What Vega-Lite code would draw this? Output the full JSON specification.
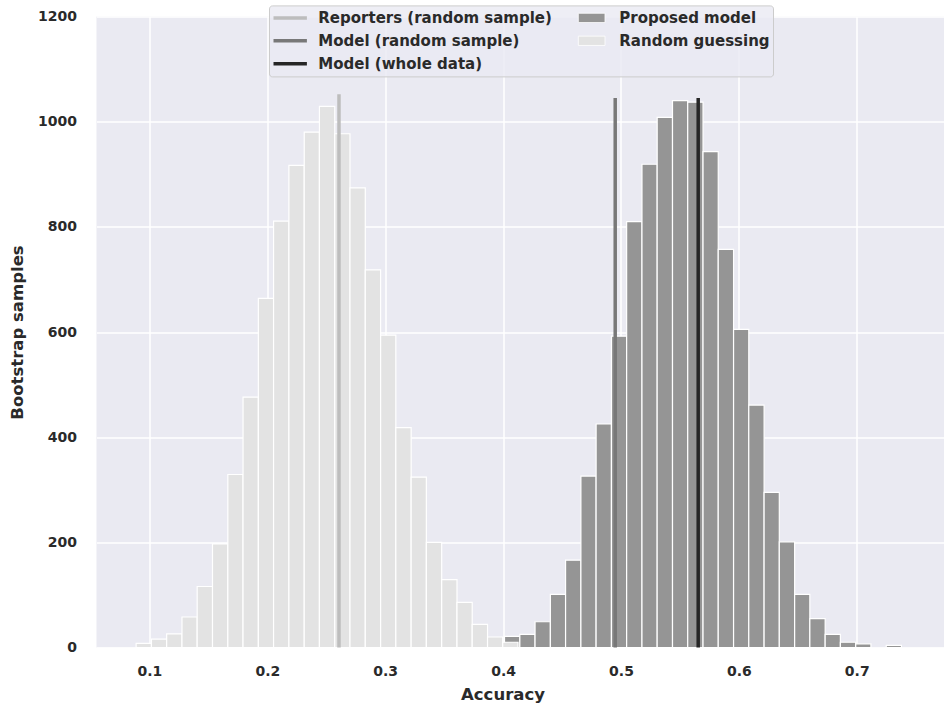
{
  "$schema": "https://vega.github.io/schema/vega-lite/v6.json",
  "width": 847.5,
  "height": 631,
  "autosize": "none",
  "padding": {"left": 96.5, "top": 16.5, "right": 0, "bottom": 60.5},
  "background": "#ffffff",
  "config": {
    "view": {"fill": "#eaeaf2", "stroke": null},
    "font": "DejaVu Sans",
    "axis": {
      "domain": false,
      "ticks": false,
      "grid": true,
      "gridColor": "#ffffff",
      "gridWidth": 1.5,
      "labelFont": "DejaVu Sans",
      "labelFontSize": 14,
      "labelFontWeight": "bold",
      "labelColor": "#2a2a2a",
      "titleFont": "DejaVu Sans",
      "titleFontSize": 16.5,
      "titleFontWeight": "bold",
      "titleColor": "#2a2a2a"
    },
    "legend": {
      "orient": "none",
      "labelFont": "DejaVu Sans",
      "labelFontSize": 15,
      "labelFontWeight": "bold",
      "labelColor": "#2a2a2a",
      "labelLimit": 400,
      "rowPadding": 6.9,
      "padding": 4.5
    }
  },
  "datasets": {
    "hist": [
      {"series": "Proposed model", "x0": 0.4012, "x1": 0.4142, "count": 21},
      {"series": "Proposed model", "x0": 0.4142, "x1": 0.4271, "count": 25},
      {"series": "Proposed model", "x0": 0.4271, "x1": 0.4401, "count": 49},
      {"series": "Proposed model", "x0": 0.4401, "x1": 0.4530, "count": 101},
      {"series": "Proposed model", "x0": 0.4530, "x1": 0.4660, "count": 166},
      {"series": "Proposed model", "x0": 0.4660, "x1": 0.4789, "count": 326},
      {"series": "Proposed model", "x0": 0.4789, "x1": 0.4919, "count": 425},
      {"series": "Proposed model", "x0": 0.4919, "x1": 0.5048, "count": 592},
      {"series": "Proposed model", "x0": 0.5048, "x1": 0.5178, "count": 810},
      {"series": "Proposed model", "x0": 0.5178, "x1": 0.5307, "count": 919},
      {"series": "Proposed model", "x0": 0.5307, "x1": 0.5437, "count": 1008},
      {"series": "Proposed model", "x0": 0.5437, "x1": 0.5566, "count": 1040},
      {"series": "Proposed model", "x0": 0.5566, "x1": 0.5696, "count": 1037},
      {"series": "Proposed model", "x0": 0.5696, "x1": 0.5825, "count": 943},
      {"series": "Proposed model", "x0": 0.5825, "x1": 0.5955, "count": 757},
      {"series": "Proposed model", "x0": 0.5955, "x1": 0.6084, "count": 605},
      {"series": "Proposed model", "x0": 0.6084, "x1": 0.6214, "count": 461},
      {"series": "Proposed model", "x0": 0.6214, "x1": 0.6343, "count": 295},
      {"series": "Proposed model", "x0": 0.6343, "x1": 0.6473, "count": 201},
      {"series": "Proposed model", "x0": 0.6473, "x1": 0.6602, "count": 101},
      {"series": "Proposed model", "x0": 0.6602, "x1": 0.6732, "count": 55},
      {"series": "Proposed model", "x0": 0.6732, "x1": 0.6861, "count": 25},
      {"series": "Proposed model", "x0": 0.6861, "x1": 0.6991, "count": 10},
      {"series": "Proposed model", "x0": 0.6991, "x1": 0.7120, "count": 7},
      {"series": "Proposed model", "x0": 0.7250, "x1": 0.7379, "count": 4},
      {"series": "Random guessing", "x0": 0.0887, "x1": 0.1017, "count": 8},
      {"series": "Random guessing", "x0": 0.1017, "x1": 0.1146, "count": 16},
      {"series": "Random guessing", "x0": 0.1146, "x1": 0.1276, "count": 26},
      {"series": "Random guessing", "x0": 0.1276, "x1": 0.1405, "count": 58},
      {"series": "Random guessing", "x0": 0.1405, "x1": 0.1535, "count": 116},
      {"series": "Random guessing", "x0": 0.1535, "x1": 0.1665, "count": 197},
      {"series": "Random guessing", "x0": 0.1665, "x1": 0.1794, "count": 329},
      {"series": "Random guessing", "x0": 0.1794, "x1": 0.1924, "count": 476},
      {"series": "Random guessing", "x0": 0.1924, "x1": 0.2053, "count": 664},
      {"series": "Random guessing", "x0": 0.2053, "x1": 0.2183, "count": 811},
      {"series": "Random guessing", "x0": 0.2183, "x1": 0.2313, "count": 917},
      {"series": "Random guessing", "x0": 0.2313, "x1": 0.2442, "count": 980},
      {"series": "Random guessing", "x0": 0.2442, "x1": 0.2572, "count": 1029},
      {"series": "Random guessing", "x0": 0.2572, "x1": 0.2701, "count": 977},
      {"series": "Random guessing", "x0": 0.2701, "x1": 0.2831, "count": 874},
      {"series": "Random guessing", "x0": 0.2831, "x1": 0.2961, "count": 718},
      {"series": "Random guessing", "x0": 0.2961, "x1": 0.3090, "count": 594},
      {"series": "Random guessing", "x0": 0.3090, "x1": 0.3220, "count": 418},
      {"series": "Random guessing", "x0": 0.3220, "x1": 0.3349, "count": 324},
      {"series": "Random guessing", "x0": 0.3349, "x1": 0.3479, "count": 200},
      {"series": "Random guessing", "x0": 0.3479, "x1": 0.3609, "count": 129},
      {"series": "Random guessing", "x0": 0.3609, "x1": 0.3738, "count": 86},
      {"series": "Random guessing", "x0": 0.3738, "x1": 0.3868, "count": 44},
      {"series": "Random guessing", "x0": 0.3868, "x1": 0.3997, "count": 20},
      {"series": "Random guessing", "x0": 0.3997, "x1": 0.4127, "count": 10}
    ],
    "lines": [
      {"series": "Reporters (random sample)", "acc": 0.2608, "top": 1052},
      {"series": "Model (random sample)", "acc": 0.4951, "top": 1045},
      {"series": "Model (whole data)", "acc": 0.5655, "top": 1045}
    ]
  },
  "layer": [
    {
      "data": {"name": "hist"},
      "mark": {"type": "bar", "stroke": "#ffffff", "strokeWidth": 1.2},
      "encoding": {
        "x": {
          "field": "x0", "type": "quantitative",
          "scale": {"domain": [0.0551, 0.774], "nice": false, "zero": false},
          "axis": {
            "values": [0.1, 0.2, 0.3, 0.4, 0.5, 0.6, 0.7],
            "format": ".1f",
            "labelPadding": 17,
            "title": "Accuracy",
            "titleX": 406,
            "titleY": 51.5,
            "titleBaseline": "alphabetic"
          }
        },
        "x2": {"field": "x1"},
        "y": {
          "field": "count", "type": "quantitative", "stack": null,
          "scale": {"domain": [0, 1200], "nice": false},
          "axis": {
            "values": [0, 200, 400, 600, 800, 1000, 1200],
            "format": "d",
            "labelPadding": 20,
            "title": "Bootstrap samples",
            "titleX": -79.5,
            "titleY": 315.5,
            "titleBaseline": "middle",
            "titleAlign": "center",
            "titleAngle": -90
          }
        },
        "y2": {"datum": 0},
        "fill": {
          "field": "series", "type": "nominal",
          "scale": {
            "domain": ["Proposed model", "Random guessing"],
            "range": ["#959595", "#e3e3e3"]
          },
          "legend": {
            "title": null,
            "legendX": 477.3,
            "legendY": -10.6,
            "symbolType": "M-1.25,-0.775L3.2,-0.775L3.2,0.775L-1.25,0.775Z",
            "symbolSize": 144,
            "symbolStrokeColor": "#ffffff",
            "symbolStrokeWidth": 0.8,
            "symbolOpacity": 1,
            "labelOffset": 26,
            "zindex": 2
          }
        }
      }
    },
    {
      "data": {"name": "lines"},
      "mark": {"type": "rule", "strokeWidth": 3.5},
      "encoding": {
        "x": {"field": "acc", "type": "quantitative"},
        "y": {"field": "top", "type": "quantitative"},
        "y2": {"datum": 0},
        "stroke": {
          "field": "series", "type": "nominal",
          "scale": {
            "domain": ["Reporters (random sample)", "Model (random sample)", "Model (whole data)"],
            "range": ["#bdbdbd", "#787878", "#262626"]
          },
          "legend": {
            "title": "x",
            "titleOrient": "right",
            "titleColor": "transparent",
            "titleFontSize": 2,
            "titlePadding": 215,
            "legendX": 172.5,
            "legendY": -11.1,
            "symbolType": "M-1.333,0L4.233,0",
            "symbolSize": 144,
            "symbolStrokeWidth": 3.5,
            "symbolOpacity": 1,
            "labelOffset": 28.8,
            "fillColor": "rgba(234,234,242,0.8)",
            "strokeColor": "#cccccc",
            "cornerRadius": 3,
            "zindex": 1
          }
        }
      }
    }
  ]
}
